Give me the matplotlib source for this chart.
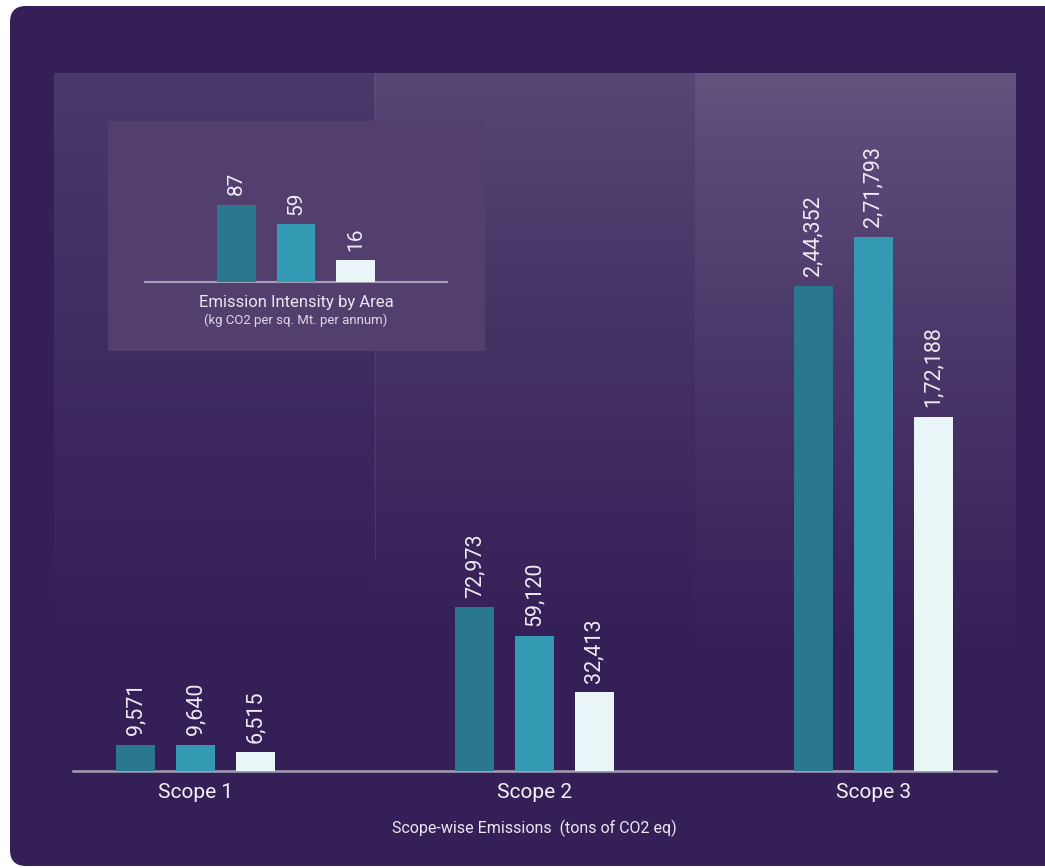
import numpy as np
import matplotlib
matplotlib.use('Agg')
from matplotlib import pyplot as plt
from matplotlib.patches import FancyBboxPatch, Rectangle
from matplotlib.colors import to_rgb

plt.rcParams['font.family'] = ['Roboto', 'DejaVu Sans']

# scope-wise emissions (tons of CO2 eq), three series per scope
scopes = ['Scope 1', 'Scope 2', 'Scope 3']
series_a = [9571, 72973, 244352]
series_b = [9640, 59120, 271793]
series_c = [6515, 32413, 172188]
labels_a = ['9,571', '72,973', '2,44,352']
labels_b = ['9,640', '59,120', '2,71,793']
labels_c = ['6,515', '32,413', '1,72,188']

# emission intensity by area (kg CO2 per sq. Mt. per annum)
intensity = [87, 59, 16]
intensity_labels = ['87', '59', '16']

bg = '#351f57'
bar_colors = ['#2a788f', '#3499b3', '#e9f5f7']
txt = '#eeebf4'
line_col = '#a39fb4'

W, H = 1045, 868
fig = plt.figure(figsize=(W / 100, H / 100), dpi=100)
fig.patch.set_facecolor('white')

# background layer in pixel coords
axb = fig.add_axes([0, 0, 1, 1], zorder=0)
axb.set_xlim(0, W)
axb.set_ylim(H, 0)
axb.axis('off')
axb.add_patch(FancyBboxPatch((10, 6), 1120, 860,
                             boxstyle='round,pad=0,rounding_size=16',
                             fc=bg, ec='none'))


def panel(x0, x1, y0, y1, top):
    t = np.linspace(0, 1, 300) ** 0.85
    t = t[:, None, None]
    c0 = np.array(to_rgb(top))
    c1 = np.array(to_rgb(bg))
    arr = c0[None, None, :] * (1 - t) + c1[None, None, :] * t
    arr = np.repeat(arr, 2, axis=1)
    axb.imshow(arr, extent=[x0, x1, y1, y0], aspect='auto', origin='upper',
               interpolation='bilinear', zorder=1)


panel(54, 374, 73, 650, '#4a3a6b')
panel(374, 695, 73, 640, '#574775')
panel(695, 1016, 73, 660, '#63537f')
axb.plot([374.5, 374.5], [73, 560], color='#7a6a96', lw=0.6, alpha=0.3, zorder=2)
axb.add_patch(Rectangle((108, 121), 377, 230, fc='#533f6e', ec='none', zorder=3))
axb.set_xlim(0, W)
axb.set_ylim(H, 0)


def power_scale(p):
    return (lambda v: np.power(np.clip(v, 0, None), p),
            lambda v: np.power(np.clip(v, 0, None), 1 / p))


# main chart
ax = fig.add_axes([73 / W, (H - 771) / H, 923 / W, 698 / H], zorder=2)
ax.patch.set_alpha(0)
ax.set_yscale('function', functions=power_scale(0.9))
x = np.arange(len(scopes))
off = 60 / 339
bw = 39 / 339
for i, (vals, labs) in enumerate([(series_a, labels_a), (series_b, labels_b),
                                  (series_c, labels_c)]):
    xs = x + (i - 1) * off
    ax.bar(xs, vals, width=bw, color=bar_colors[i], zorder=3)
    for xx, v, lab in zip(xs, vals, labs):
        ax.annotate(lab, (xx, v), xytext=(0, 7), textcoords='offset points',
                    rotation=90, ha='center', va='bottom', color=txt,
                    fontsize=15.5)
ax.set_xlim(-123 / 339, 2 + 123 / 339)
ax.set_ylim(0, 366000)
ax.set_xticks(x)
ax.set_xticklabels(scopes, fontsize=15, color='#f4f2f8')
ax.tick_params(axis='x', length=0, pad=9)
ax.set_yticks([])
ax.minorticks_off()
ax.tick_params(axis='y', which='both', left=False, labelleft=False)
for s in ['top', 'left', 'right']:
    ax.spines[s].set_visible(False)
ax.spines['bottom'].set_color(line_col)
ax.spines['bottom'].set_linewidth(1.8)

fig.text(534 / W, 1 - 828 / H, 'Scope-wise Emissions  (tons of CO2 eq)',
         ha='center', va='center', color='#ebe7f2', fontsize=11.5)

# inset: emission intensity
axi = fig.add_axes([145 / W, (H - 282) / H, 302 / W, 152 / H], zorder=3)
axi.patch.set_alpha(0)
axi.set_yscale('function', functions=power_scale(0.75))
xi = np.arange(len(intensity))
axi.bar(xi, intensity, width=0.65, color=bar_colors, zorder=3)
for xx, v, lab in zip(xi, intensity, intensity_labels):
    axi.annotate(lab, (xx, v), xytext=(0, 7), textcoords='offset points',
                 rotation=90, ha='center', va='bottom', color=txt,
                 fontsize=15)
axi.set_xlim(-91.5 / 60, 2 + 91.5 / 60)
axi.set_ylim(0, 215)
axi.set_xticks([])
axi.set_yticks([])
axi.minorticks_off()
axi.tick_params(axis='y', which='both', left=False, labelleft=False)
for s in ['top', 'left', 'right']:
    axi.spines[s].set_visible(False)
axi.spines['bottom'].set_color(line_col)
axi.spines['bottom'].set_linewidth(1.5)

fig.text(296 / W, 1 - 302 / H, 'Emission Intensity by Area',
         ha='center', va='center', color='#ebe7f2', fontsize=12)
fig.text(296 / W, 1 - 320 / H, '(kg CO2 per sq. Mt. per annum)',
         ha='center', va='center', color='#ddd7e6', fontsize=9.5)

fig.savefig('out.png', dpi=100, facecolor='white')
